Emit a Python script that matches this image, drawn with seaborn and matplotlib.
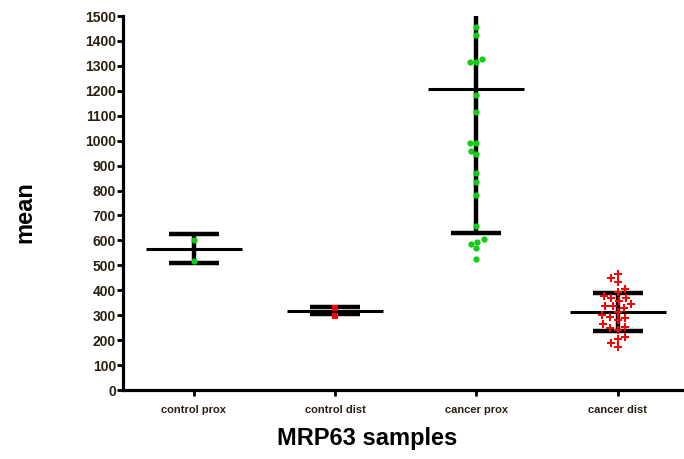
import matplotlib
matplotlib.use("Agg")
import matplotlib.pyplot as plt
import seaborn as sns
import pandas as pd
import numpy as np

categories = ["control prox", "control dist", "cancer prox", "cancer dist"]
control_prox = [602, 517]
control_dist = [329, 297]
cancer_prox = [1456, 1424, 1316, 1315, 1327, 1183, 1116, 990, 990, 960, 947,
               869, 835, 782, 658, 604, 585, 595, 568, 524]
cancer_dist = [449, 433, 465, 405, 393, 377, 369, 369, 357, 345, 337, 329, 337,
               313, 301, 293, 289, 281, 265, 253, 249, 241, 213, 205, 189, 173]
means = [566, 318, 1207, 313]
sds = [58, 14, 577, 77]
y_ticks = list(range(0, 1501, 100))

groups = [control_prox, control_dist, cancer_prox, cancer_dist]
markers = ["o", "s", "o", "P"]
colors = ["#11cc11", "#ff0000", "#11cc11", "#ff0000"]
sizes = [4.5, 4.5, 4.5, 5.5]

sns.set_theme(style="ticks")
plt.rcParams["font.family"] = ["Liberation Sans", "DejaVu Sans"]

fig = plt.figure(figsize=(6.84, 4.59), dpi=100)
ax = fig.add_axes([123 / 684, (459 - 390) / 459, 1 - 123 / 684, (390 - 16) / 459])

rows = []
for cat, vals in zip(categories, groups):
    for v in vals:
        rows.append({"group": cat, "value": v})
df = pd.DataFrame(rows)

xpos = np.arange(len(categories))
# mean lines
ax.hlines(means, xpos - 0.34, xpos + 0.34, colors="black", linewidth=2.2, zorder=3)
# SD error bars
ax.errorbar(xpos, means, yerr=sds, fmt="none", ecolor="black", elinewidth=3.2,
            capsize=18, capthick=3.2, zorder=3)

for cat, m, c, s in zip(categories, markers, colors, sizes):
    sub = df[df["group"] == cat]
    sns.swarmplot(data=sub, x="group", y="value", order=categories, marker=m,
                  color=c, size=s, linewidth=0, ax=ax, zorder=4)

ax.set_xlim(-0.5, 3.47)
ax.set_ylim(0, 1500)
ax.set_yticks(y_ticks)
ax.set_yticklabels([str(t) for t in y_ticks])
ax.set_xticks(xpos)
ax.set_xticklabels(categories)

for side in ["top", "right"]:
    ax.spines[side].set_visible(False)
for side in ["left", "bottom"]:
    ax.spines[side].set_linewidth(2.3)
    ax.spines[side].set_color("black")

ax.tick_params(axis="y", length=4, width=2, color="black", labelsize=10,
               labelcolor="#2a2010", pad=1)
ax.tick_params(axis="x", length=4, width=2, color="black", labelsize=8,
               labelcolor="#2a2010", pad=7)
for lab in ax.get_yticklabels() + ax.get_xticklabels():
    lab.set_fontweight("bold")

ax.set_xlabel("MRP63 samples", fontsize=17, fontweight="bold", color="black")
ax.set_ylabel("mean", fontsize=17, fontweight="bold", color="black")
ax.xaxis.set_label_coords(0.435, -0.098)
ax.yaxis.set_label_coords(-0.155, 0.476)

fig.savefig("out.png", dpi=100)
